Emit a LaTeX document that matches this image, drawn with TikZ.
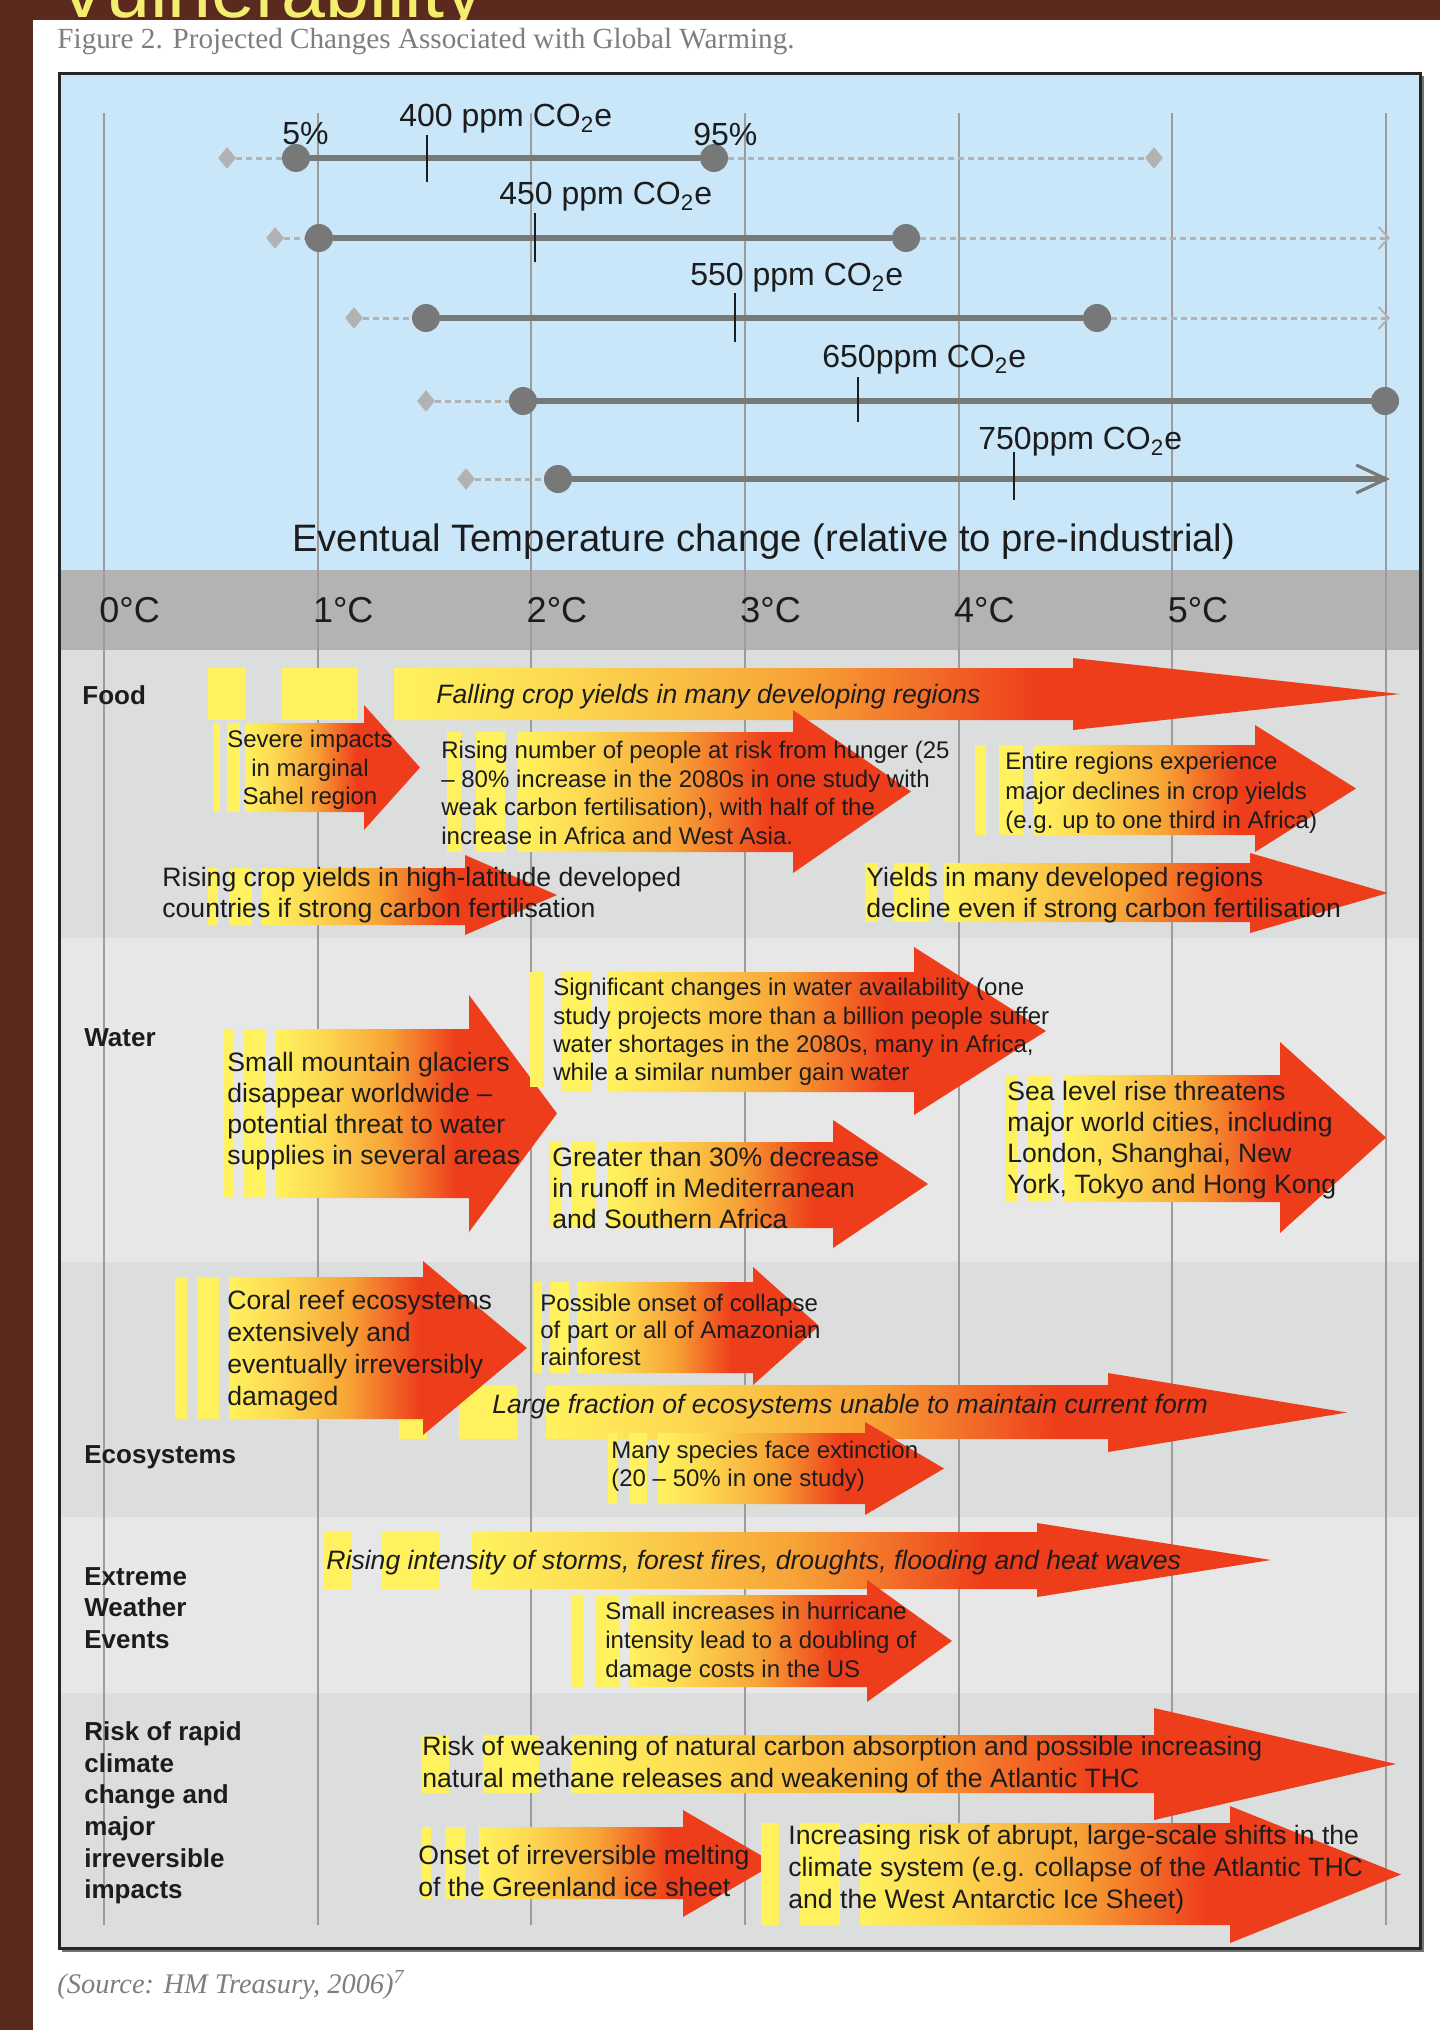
\documentclass[tikz,border=0pt]{standalone}
\usepackage{fontspec}
\setmainfont{Liberation Sans}
\newfontfamily\capfont{Liberation Serif}
\usetikzlibrary{arrows.meta,shapes.geometric}

\definecolor{pagebrown}{HTML}{5A2A1E}
\definecolor{titleyellow}{HTML}{F4EE6E}
\definecolor{captiongray}{HTML}{7E7E7E}
\definecolor{skyblue}{HTML}{C9E7F9}
\definecolor{headgray}{HTML}{B3B3B3}
\definecolor{rowdark}{HTML}{DCDDDD}
\definecolor{rowlight}{HTML}{E7E7E7}
\definecolor{gridgray}{HTML}{9C9C9C}
\definecolor{bargray}{HTML}{787878}
\definecolor{faintgray}{HTML}{B2B2B2}
\definecolor{inkblack}{HTML}{1C1C1C}
\definecolor{heatyellow}{HTML}{FFF25E}
\definecolor{heatamber}{HTML}{FDDA52}
\definecolor{heatorange}{HTML}{F7A436}
\definecolor{heatred}{HTML}{EE3D1B}

\pgfdeclarehorizontalshading{heat}{100bp}{color(0bp)=(heatyellow); color(25bp)=(heatyellow); color(33bp)=(heatamber); color(45bp)=(heatorange); color(57bp)=(heatred); color(100bp)=(heatred)}

\newcommand{\heatarrow}[7]{%
  \shade[shading=heat] (#1,#4) -- (#2,#4) -- (#2,#6) -- (#3,{(#6+#7)/2}) -- (#2,#7) -- (#2,#5) -- (#1,#5) -- cycle;}
\newcommand{\heatstrip}[4]{\fill[heatyellow] (#1,#3) rectangle (#2,#4);}

\begin{document}
\begin{tikzpicture}[x=0.5pt,y=-0.5pt,
  gridline/.style={gridgray, line width=1pt},
  rangebar/.style={bargray, line width=3pt},
  tailline/.style={faintgray, line width=1.5pt, dash pattern=on 3pt off 2pt},
  enddot/.style={circle, fill=bargray, inner sep=0pt, minimum size=14pt},
  lowmark/.style={diamond, fill=faintgray, inner sep=0pt, minimum width=9pt, minimum height=11pt},
  median/.style={inkblack, line width=0.8pt},
  ppmlabel/.style={font=\fontsize{16}{18}\selectfont, text=inkblack, inner sep=0pt, anchor=west},
  degree/.style={font=\fontsize{18}{20}\selectfont, text=inkblack, inner sep=0pt, anchor=west},
  rowname/.style={font=\bfseries\fontsize{13}{15.8}\selectfont, text=inkblack, align=left, inner sep=0pt, anchor=west},
  bigtext/.style={font=\fontsize{13.3}{15.6}\selectfont, text=inkblack, align=left, inner sep=0pt, anchor=west},
  smalltext/.style={font=\fontsize{12}{14.2}\selectfont, text=inkblack, align=left, inner sep=0pt, anchor=west}]
\useasboundingbox (0,0) rectangle (1440,2030);
\clip (0,0) rectangle (1440,2030);
\fill[pagebrown] (0,0) rectangle (1440,2030);
\begin{scope}
\clip (0,0) rectangle (1440,20);
\node[anchor=base west, inner sep=0pt, text=titleyellow, font=\fontsize{39.5}{40}\selectfont] (banner) at (56,17) {Vulnerability};
\end{scope}
\fill[white] (33,20) rectangle (1440,2030);
\node[anchor=west, inner sep=0pt, text=captiongray, font=\capfont\fontsize{14.6}{16}\selectfont] (caption) at (57,42) {Figure 2. Projected Changes Associated with Global Warming.};

\fill[skyblue] (59,73) rectangle (1420,570);
\fill[headgray] (59,570) rectangle (1420,650);
\fill[rowdark] (59,650) rectangle (1420,938);
\fill[rowlight] (59,938) rectangle (1420,1262);
\fill[rowdark] (59,1262) rectangle (1420,1517);
\fill[rowlight] (59,1517) rectangle (1420,1693);
\fill[rowdark] (59,1693) rectangle (1420,1948);

\foreach \i in {0,...,6}
  \draw[gridline] ({104+213.67*\i},113) -- ({104+213.67*\i},1925);
\foreach \i in {0,...,5}
  \node[degree] (deg\i) at ({99+213.67*\i},610) {\i°C};

\node[lowmark] (dl1) at (227,158) {};
\node[enddot] (lo1) at (296,158) {};
\node[enddot] (hi1) at (714,158) {};
\node[lowmark] (dr1) at (1154,158) {};
\draw[tailline] (dl1) -- (lo1);
\draw[tailline] (hi1) -- (dr1);
\draw[rangebar] (lo1) -- (hi1);
\draw[median] (427,135) -- (427,182);
\node[ppmlabel] (ppm400) at (399,119) {400 ppm CO\textsubscript{2}e};
\node[ppmlabel] (p05) at (282,134) {5\%};
\node[ppmlabel] (p95) at (693,134) {95\%};

\node[lowmark] (dl2) at (275,238) {};
\node[enddot] (lo2) at (319,238) {};
\node[enddot] (hi2) at (906,238) {};
\coordinate (end2) at (1390,238);
\draw[tailline] (dl2) -- (lo2);
\draw[tailline, -{Straight Barb[length=5pt,width=11pt,line width=1pt]}] (hi2) -- (end2);
\draw[rangebar] (lo2) -- (hi2);
\draw[median] (535,213) -- (535,262);
\node[ppmlabel] (ppm450) at (499,197) {450 ppm CO\textsubscript{2}e};

\node[lowmark] (dl3) at (354,318) {};
\node[enddot] (lo3) at (426,318) {};
\node[enddot] (hi3) at (1097,318) {};
\coordinate (end3) at (1390,318);
\draw[tailline] (dl3) -- (lo3);
\draw[tailline, -{Straight Barb[length=5pt,width=11pt,line width=1pt]}] (hi3) -- (end3);
\draw[rangebar] (lo3) -- (hi3);
\draw[median] (735,293) -- (735,342);
\node[ppmlabel] (ppm550) at (690,278) {550 ppm CO\textsubscript{2}e};

\node[lowmark] (dl4) at (426,401) {};
\node[enddot] (lo4) at (523,401) {};
\node[enddot] (hi4) at (1385,401) {};
\draw[tailline] (dl4) -- (lo4);
\draw[rangebar] (lo4) -- (hi4);
\draw[median] (858,377) -- (858,422);
\node[ppmlabel] (ppm650) at (822,360) {650ppm CO\textsubscript{2}e};

\node[lowmark] (dl5) at (466,479) {};
\node[enddot] (lo5) at (558,479) {};
\coordinate (end5) at (1390,479);
\draw[tailline] (dl5) -- (lo5);
\draw[rangebar, -{Straight Barb[length=15pt,width=14pt,line width=1.6pt]}] (lo5) -- (end5);
\draw[median] (1014,452) -- (1014,500);
\node[ppmlabel] (ppm750) at (978,442) {750ppm CO\textsubscript{2}e};

\node[degree, font=\fontsize{19.1}{21}\selectfont] (eventual) at (292,542) {Eventual Temperature change (relative to pre-industrial)};

\heatstrip{208}{245}{668}{720}
\heatstrip{282}{357}{668}{720}
\heatarrow{394}{1073}{1400}{668}{720}{658}{730}
\heatstrip{213}{220}{723}{812}
\heatstrip{227}{240}{723}{812}
\heatarrow{245}{364}{420}{723}{812}{705}{830}
\heatstrip{447}{461}{732}{852}
\heatstrip{476}{505}{732}{852}
\heatarrow{518}{793}{911}{732}{852}{710}{873}
\heatstrip{975}{986}{745}{835}
\heatstrip{999}{1023}{745}{835}
\heatarrow{1034}{1255}{1356}{745}{835}{725}{852}
\heatstrip{208}{218}{868}{925}
\heatstrip{229}{252}{868}{925}
\heatarrow{262}{465}{557}{868}{925}{855}{935}
\heatstrip{865}{878}{863}{922}
\heatstrip{894}{929}{863}{922}
\heatarrow{944}{1250}{1388}{863}{922}{853}{933}

\heatstrip{224}{234}{1029}{1198}
\heatstrip{244}{265}{1029}{1198}
\heatarrow{275}{469}{557}{1029}{1198}{995}{1232}
\heatstrip{530}{544}{972}{1087}
\heatstrip{561}{591}{972}{1092}
\heatarrow{608}{914}{1046}{972}{1092}{947}{1115}
\heatstrip{549}{561}{1142}{1228}
\heatstrip{572}{596}{1142}{1228}
\heatarrow{608}{833}{928}{1142}{1228}{1120}{1248}
\heatstrip{1005}{1017}{1075}{1202}
\heatstrip{1028}{1052}{1075}{1202}
\heatarrow{1064}{1280}{1386}{1075}{1202}{1042}{1233}

\heatstrip{399}{427}{1385}{1439}
\heatstrip{459}{517}{1385}{1439}
\heatarrow{546}{1108}{1347}{1385}{1439}{1373}{1452}
\heatstrip{175}{187}{1277}{1419}
\heatstrip{197}{219}{1277}{1419}
\heatarrow{229}{423}{527}{1277}{1419}{1261}{1435}
\heatstrip{534}{542}{1282}{1373}
\heatstrip{550}{569}{1282}{1373}
\heatarrow{577}{753}{819}{1282}{1373}{1267}{1385}
\heatstrip{608}{617}{1433}{1504}
\heatstrip{629}{647}{1433}{1504}
\heatarrow{658}{865}{944}{1433}{1504}{1422}{1515}

\heatstrip{324}{351}{1532}{1589}
\heatstrip{382}{440}{1532}{1589}
\heatarrow{472}{1037}{1271}{1532}{1589}{1523}{1597}
\heatstrip{571}{584}{1595}{1687}
\heatstrip{596}{620}{1595}{1687}
\heatarrow{629}{867}{952}{1595}{1687}{1580}{1702}

\heatstrip{422}{449}{1735}{1793}
\heatstrip{483}{539}{1735}{1793}
\heatarrow{571}{1154}{1396}{1735}{1793}{1708}{1820}
\heatstrip{422}{431}{1827}{1899}
\heatstrip{445}{465}{1827}{1899}
\heatarrow{479}{683}{775}{1827}{1899}{1810}{1917}
\heatstrip{761}{779}{1823}{1925}
\heatstrip{800}{840}{1823}{1925}
\heatarrow{860}{1230}{1401}{1823}{1925}{1806}{1943}

\node[rowname] (food) at (82,695) {Food};
\node[rowname] (water) at (84,1038) {Water};
\node[rowname] (eco) at (84,1457) {Ecosystems};
\node[rowname] (weather) at (84,1608) {Extreme\\Weather\\Events};
\node[rowname] (rapid) at (84,1813) {Risk of rapid\\climate\\change and\\major\\irreversible\\impacts};

\node[bigtext, font=\itshape\fontsize{13.3}{15.6}\selectfont] (falling) at (436,697) {Falling crop yields in many developing regions};
\node[smalltext, align=center, anchor=center] (sahel) at (310,770) {Severe impacts\\in marginal\\Sahel region};
\node[smalltext] (hunger) at (441,793) {Rising number of people at risk from hunger (25\\– 80\% increase in the 2080s in one study with\\weak carbon fertilisation), with half of the\\increase in Africa and West Asia.};
\node[smalltext, font=\fontsize{12}{14.7}\selectfont] (entire) at (1005,793) {Entire regions experience\\major declines in crop yields\\(e.g. up to one third in Africa)};
\node[bigtext] (highlat) at (162,895) {Rising crop yields in high-latitude developed\\countries if strong carbon fertilisation};
\node[bigtext] (developed) at (866,895) {Yields in many developed regions\\decline even if strong carbon fertilisation};

\node[bigtext] (glaciers) at (227,1111) {Small mountain glaciers\\disappear worldwide –\\potential threat to water\\supplies in several areas};
\node[smalltext] (availability) at (553,1032) {Significant changes in water availability (one\\study projects more than a billion people suffer\\water shortages in the 2080s, many in Africa,\\while a similar number gain water};
\node[bigtext] (runoff) at (552,1188) {Greater than 30\% decrease\\in runoff in Mediterranean\\and Southern Africa};
\node[bigtext] (sealevel) at (1007,1140) {Sea level rise threatens\\major world cities, including\\London, Shanghai, New\\York, Tokyo and Hong Kong};

\node[bigtext, font=\fontsize{13.3}{16}\selectfont] (coral) at (227,1351) {Coral reef ecosystems\\extensively and\\eventually irreversibly\\damaged};
\node[smalltext, font=\fontsize{12}{13.6}\selectfont] (amazon) at (540,1330) {Possible onset of collapse\\of part or all of Amazonian\\rainforest};
\node[bigtext, font=\itshape\fontsize{13.3}{15.6}\selectfont] (fraction) at (492,1407) {Large fraction of ecosystems unable to maintain current form};
\node[smalltext] (species) at (611,1466) {Many species face extinction\\(20 – 50\% in one study)};

\node[bigtext, font=\itshape\fontsize{13.3}{15.6}\selectfont] (storms) at (326,1563) {Rising intensity of storms, forest fires, droughts, flooding and heat waves};
\node[smalltext, font=\fontsize{12}{14.5}\selectfont] (hurricane) at (605,1642) {Small increases in hurricane\\intensity lead to a doubling of\\damage costs in the US};

\node[bigtext, font=\fontsize{13.3}{16}\selectfont] (carbonsink) at (422,1765) {Risk of weakening of natural carbon absorption and possible increasing\\natural methane releases and weakening of the Atlantic THC};
\node[bigtext, font=\fontsize{13.3}{16}\selectfont] (greenland) at (418,1871) {Onset of irreversible melting\\of the Greenland ice sheet};
\node[bigtext, font=\fontsize{13.3}{16}\selectfont] (abrupt) at (788,1870) {Increasing risk of abrupt, large-scale shifts in the\\climate system (e.g. collapse of the Atlantic THC\\and the West Antarctic Ice Sheet)};

\draw[black!55, line width=2pt] (1422,76) -- (1422,1950) -- (62,1950);
\draw[black!85, line width=1.5pt] (59,73) rectangle (1420,1948);
\node[anchor=west, inner sep=0pt, text=captiongray, font=\capfont\itshape\fontsize{14.2}{16}\selectfont] (source) at (57,1985) {(Source: HM Treasury, 2006)\textsuperscript{7}};
\end{tikzpicture}
\end{document}
